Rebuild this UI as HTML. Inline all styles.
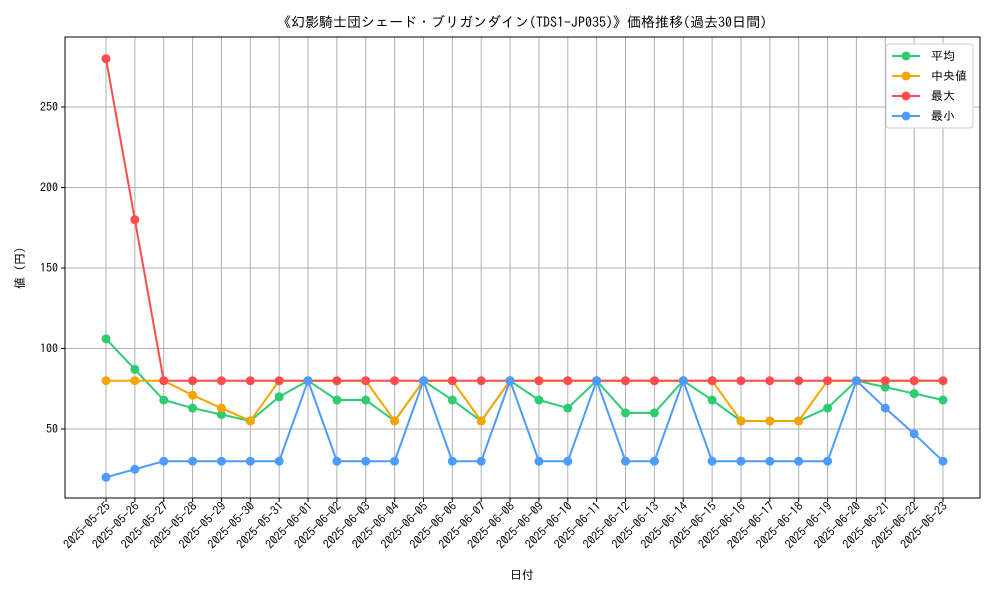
<!DOCTYPE html>
<html><head><meta charset="utf-8"><style>
body{margin:0;background:#fff;}
svg text{font-family:"IPAGothic","Noto Sans CJK JP",sans-serif;fill:#000;}
</style></head><body>
<svg id="chart" width="1000" height="600">
<text x="522" y="27" font-size="14" text-anchor="middle">《幻影騎士団シェード・ブリガンダイン(TDS1-JP035)》価格推移(過去30日間)</text>
<g id="grid"></g><g id="axes"></g><g id="series"></g>
<text x="522" y="579" font-size="12" text-anchor="middle">日付</text>
<text transform="translate(24,268) rotate(-90)" font-size="12" text-anchor="middle">値 (円)</text>
<g id="legend"></g>
</svg>
<script>
const dates=["2025-05-25","2025-05-26","2025-05-27","2025-05-28","2025-05-29","2025-05-30","2025-05-31","2025-06-01","2025-06-02","2025-06-03","2025-06-04","2025-06-05","2025-06-06","2025-06-07","2025-06-08","2025-06-09","2025-06-10","2025-06-11","2025-06-12","2025-06-13","2025-06-14","2025-06-15","2025-06-16","2025-06-17","2025-06-18","2025-06-19","2025-06-20","2025-06-21","2025-06-22","2025-06-23"];
const avgVals=[106,87,68,63,59,55,70,80,68,68,55,80,68,55,80,68,63,80,60,60,80,68,55,55,55,63,80,76,72,68];
const medVals=[80,80,80,71,63,55,80,80,80,80,55,80,80,55,80,80,80,80,80,80,80,80,55,55,55,80,80,80,80,80];
const maxVals=[280,180,80,80,80,80,80,80,80,80,80,80,80,80,80,80,80,80,80,80,80,80,80,80,80,80,80,80,80,80];
const minVals=[20,25,30,30,30,30,30,80,30,30,30,80,30,30,80,30,30,80,30,30,80,30,30,30,30,30,80,63,47,30];
const yTicks=[50,100,150,200,250];
const seriesNames=["平均","中央値","最大","最小"];
const NS="http://www.w3.org/2000/svg";
const L=65,R=980,T=37,B=498;
const xs=i=>106+i*(943-106)/(dates.length-1);
const ys=v=>429-(v-50)*1.61;
function mk(tag,attrs,parent){const e=document.createElementNS(NS,tag);for(const k in attrs)e.setAttribute(k,attrs[k]);parent.appendChild(e);return e;}
const grid=document.getElementById('grid'),axes=document.getElementById('axes'),ser=document.getElementById('series'),leg=document.getElementById('legend');
dates.forEach((d,i)=>{
 const g=mk('line',{x1:xs(i),x2:xs(i),y1:T,y2:B,stroke:'#b0b0b0','stroke-width':1},grid);
 
 
 mk('line',{x1:xs(i),x2:xs(i),y1:B,y2:B+4,stroke:'#000'},axes);
 const t=mk('text',{'font-size':12,'text-anchor':'end',transform:`translate(${xs(i)+5},${B+9}) rotate(-45)`},axes);
 t.textContent=d;
 
 
});
yTicks.forEach(v=>{
 const g=mk('line',{x1:L,x2:R,y1:ys(v),y2:ys(v),stroke:'#b0b0b0','stroke-width':1},grid);
 
 
 mk('line',{x1:L-4,x2:L,y1:ys(v),y2:ys(v),stroke:'#000'},axes);
 const t=mk('text',{x:L-7,y:ys(v)+4,'font-size':12,'text-anchor':'end'},axes);
 t.textContent=v;
 
 
});
const fr=mk('rect',{x:L,y:T,width:R-L,height:B-T,fill:'none',stroke:'#000','stroke-width':1},axes);


const all=[[avgVals,'#2ecc71','average'],[medVals,'#f5a500','median'],[maxVals,'#ff4c4c','max'],[minVals,'#4d9bff','min']];
all.forEach(([vals,c,n])=>{
 const g=mk('g',{},ser);
 
 
 const p=mk('polyline',{points:vals.map((v,i)=>xs(i)+','+ys(v)).join(' '),fill:'none',stroke:c,'stroke-width':2},g);
 
 
 vals.forEach((v,i)=>{
  const m=mk('circle',{cx:xs(i),cy:ys(v),r:4.5,fill:c},g);
  
  
 });
});
const lb=mk('rect',{x:886,y:44,width:87,height:84,fill:'#fff',stroke:'#ccc',rx:3},leg);


all.forEach(([v,c,n],k)=>{
 const y=56+k*20;
 const g=mk('g',{},leg);
 
 
 mk('line',{x1:892,x2:920,y1:y,y2:y,stroke:c,'stroke-width':2},g);
 mk('circle',{cx:906,cy:y,r:4.5,fill:c},g);
 const t=mk('text',{x:931,y:y+4,'font-size':12},g);
 t.textContent=seriesNames[k];
});
</script>
</body></html>
